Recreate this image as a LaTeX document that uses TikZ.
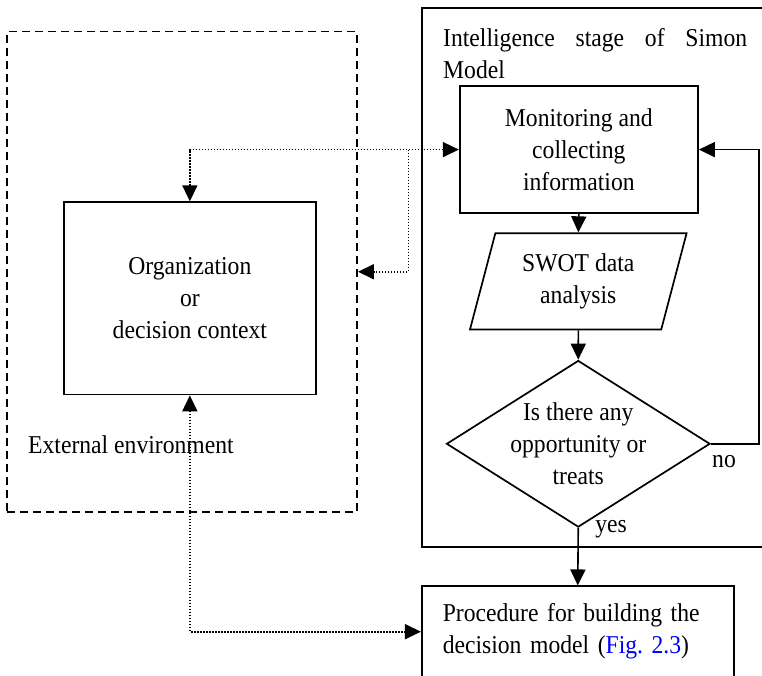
\documentclass[tikz,border=0pt]{standalone}
\usepackage{fontspec}
\setmainfont{Liberation Serif}[FakeStretch=0.92]
\usetikzlibrary{arrows.meta,shapes.geometric}
\begin{document}
\begin{tikzpicture}[x=1pt,y=-1pt,
  every node/.style={font=\fontsize{25.7}{32}\selectfont},
  box/.style={draw, line width=1.7pt, inner sep=0pt},
  envbox/.style={draw, line width=1.9pt, dash pattern=on 8pt off 5pt, inner sep=0pt},
  >={Triangle[length=16pt,width=15pt]},
  flow/.style={line width=1.6pt, ->},
  link/.style={line width=1.6pt, dash pattern=on 1.5pt off 1.5pt},
  plain/.style={inner sep=0pt}
]
\useasboundingbox (0,0) rectangle (762,676);
\clip (0,0) rectangle (762,676);

% external environment (dashed frame)
\node[envbox, minimum width=349.7pt, minimum height=480.5pt] (env) at (182.15,271.75) {};
\node[plain, anchor=west] (envlabel) at (28,445) {External environment};

% intelligence stage frame
\node[box, minimum width=350.2pt, minimum height=538.9pt] (intel) at (596.9,277.25) {};
\node[plain, anchor=west, align=left] (title) at (443,54)
  {\makebox[304pt][s]{Intelligence stage of Simon}\\Model};

% organization
\node[box, minimum width=252.3pt, minimum height=192.3pt, align=center] (org) at (189.85,298.35)
  {Organization\\or\\decision context};

% flow steps
\node[box, minimum width=238.3pt, minimum height=127.5pt, align=center] (mon) at (578.85,149.6)
  {Monitoring and\\collecting\\information};
\node[box, trapezium, trapezium left angle=65.4, trapezium right angle=114.6,
      trapezium stretches body, minimum width=216.6pt, minimum height=96.2pt, align=center]
  (swot) at (578.3,281.3) {SWOT data\\analysis};
\node[box, diamond, minimum width=263.5pt, minimum height=166.6pt] (dec) at (578.25,443.8) {};
\node[plain, align=center] (dectext) at (dec) {Is there any\\opportunity or\\treats};
\node[box, text width=270pt, inner xsep=20.95pt, minimum height=90.8pt, align=left] (proc) at (577.75,631.7)
  {\makebox[270pt][s]{Procedure for building the}\\decision model (\textcolor{blue}{Fig.~2.3})};

\node[plain] (no) at (724,462) {no};
\node[plain] (yes) at (611,529) {yes};

% solid flow connectors
\draw[flow] (mon.south) -- (swot.north);
\draw[flow] (swot.south) -- (dec.north);
\draw[flow] (dec.south) -- (proc.north);
\draw[flow] (dec.east) -- ++(48,0) |- (mon.east);

% dotted information links
\coordinate (split) at (408.3,149.6);
\draw[link, <->] (org.north) |- (mon.west);
\draw[link, ->] (split) |- (env.east);
\draw[link, <->] (org.south) |- (proc.west);
\end{tikzpicture}
\end{document}
